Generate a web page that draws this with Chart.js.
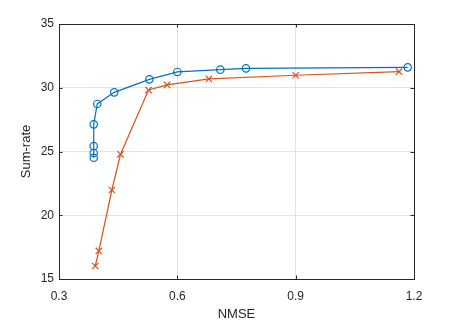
<!DOCTYPE html>
<html>
<head>
<meta charset="utf-8">
<script src="https://cdn.jsdelivr.net/npm/chart.js@4.4.1/dist/chart.umd.min.js"></script>
<style>
html,body{margin:0;padding:0;background:#fff;}
#wrap{width:457px;height:323px;}
</style>
</head>
<body>
<div id="wrap"><canvas id="c" width="457" height="323"></canvas></div>
<script>
const blueX = [0.388, 0.388, 0.388, 0.388, 0.397, 0.440, 0.529, 0.600, 0.709, 0.774, 1.184];
const blueY = [24.51, 24.88, 25.43, 27.13, 28.73, 29.64, 30.66, 31.24, 31.42, 31.52, 31.60];
const redX = [0.392, 0.401, 0.434, 0.456, 0.527, 0.574, 0.680, 0.900, 1.162];
const redY = [16.02, 17.20, 21.98, 24.78, 29.82, 30.22, 30.69, 30.98, 31.26];
const xTicks = [0.3, 0.6, 0.9, 1.2];
const yTicks = [15, 20, 25, 30, 35];
const xLabel = 'NMSE';
const yLabel = 'Sum-rate';

const toPts = (xs, ys) => xs.map((x, i) => ({x: x, y: ys[i]}));
const axisColor = '#262626';
const fontFam = '"Liberation Sans", Arial, Helvetica, sans-serif';

const boxPlugin = {
  id: 'box',
  afterDraw(chart) {
    const {ctx, chartArea: a, scales} = chart;
    ctx.save();
    ctx.strokeStyle = axisColor;
    ctx.lineWidth = 1;
    const tl = 3.5;
    ctx.beginPath();
    xTicks.forEach(v => {
      const px = Math.round(scales.x.getPixelForValue(v)) + 0.5;
      ctx.moveTo(px, a.bottom); ctx.lineTo(px, a.bottom - tl);
      ctx.moveTo(px, a.top); ctx.lineTo(px, a.top + tl);
    });
    yTicks.forEach(v => {
      const py = Math.round(scales.y.getPixelForValue(v)) + 0.5;
      ctx.moveTo(a.left, py); ctx.lineTo(a.left + tl, py);
      ctx.moveTo(a.right, py); ctx.lineTo(a.right - tl, py);
    });
    ctx.stroke();
    ctx.strokeRect(Math.round(a.left) + 0.5, Math.round(a.top) + 0.5, Math.round(a.right - a.left), Math.round(a.bottom - a.top));
    ctx.restore();
  }
};

new Chart(document.getElementById('c'), {
  type: 'scatter',
  data: {
    datasets: [
      {
        data: toPts(blueX, blueY),
        showLine: true,
        borderColor: '#0072BD',
        backgroundColor: 'rgba(0,0,0,0)',
        borderWidth: 1.2,
        pointStyle: 'circle',
        pointRadius: 3.7,
        pointBorderWidth: 1.2,
        pointBorderColor: '#0072BD',
        pointBackgroundColor: 'rgba(0,0,0,0)',
        tension: 0
      },
      {
        data: toPts(redX, redY),
        showLine: true,
        borderColor: '#D95319',
        backgroundColor: 'rgba(0,0,0,0)',
        borderWidth: 1.2,
        pointStyle: 'crossRot',
        pointRadius: 4.5,
        pointBorderWidth: 1.2,
        pointBorderColor: '#D95319',
        tension: 0
      }
    ]
  },
  options: {
    responsive: false,
    animation: false,
    devicePixelRatio: 1,
    layout: {padding: {left: 0, top: 24, right: 43, bottom: 0}},
    plugins: {legend: {display: false}, tooltip: {enabled: false}},
    scales: {
      x: {
        type: 'linear',
        min: 0.3, max: 1.2,
        afterBuildTicks: s => { s.ticks = xTicks.map(v => ({value: v})); },
        afterFit: s => { s.height = 44; },
        ticks: {
          color: axisColor,
          font: {family: fontFam, size: 12},
          padding: 10,
          maxRotation: 0,
          callback: v => v.toFixed(1)
        },
        grid: {color: '#e3e3e3', drawTicks: false, lineWidth: 1},
        border: {display: false},
        title: {display: true, text: xLabel, color: axisColor, font: {family: fontFam, size: 13}, padding: {top: 0, bottom: 1}}
      },
      y: {
        type: 'linear',
        min: 15, max: 35,
        afterBuildTicks: s => { s.ticks = yTicks.map(v => ({value: v})); },
        afterFit: s => { s.width = 59; },
        ticks: {
          color: axisColor,
          font: {family: fontFam, size: 12},
          padding: 5,
          callback: v => String(v)
        },
        grid: {color: '#e3e3e3', drawTicks: false, lineWidth: 1},
        border: {display: false},
        title: {display: true, text: yLabel, color: axisColor, font: {family: fontFam, size: 13}, padding: {top: 19, bottom: 0}}
      }
    }
  },
  plugins: [boxPlugin]
});
</script>
</body>
</html>
